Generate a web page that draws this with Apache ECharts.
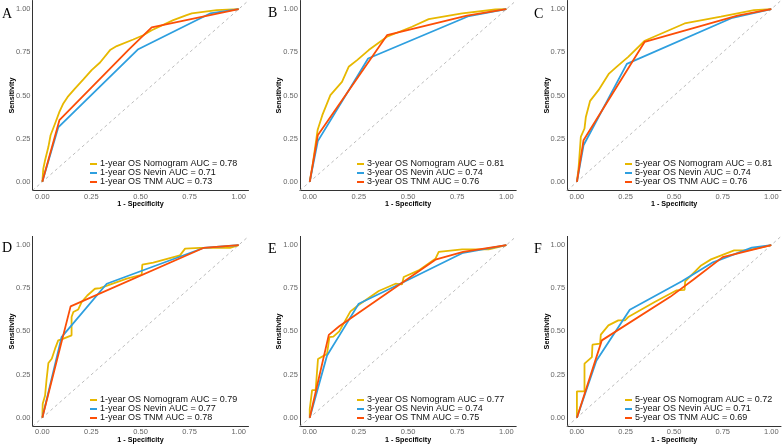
<!DOCTYPE html>
<html><head><meta charset="utf-8">
<script src="https://cdn.jsdelivr.net/npm/echarts@6/dist/echarts.min.js"></script>
<style>html,body{margin:0;padding:0;background:#fff}#c{width:784px;height:445px}</style>
</head><body><div id="c"></div>
<script>
// ---- data ----
const panelLetters = ['A', 'B', 'C', 'D', 'E', 'F'];
const tickValues = [0, 0.25, 0.5, 0.75, 1];
const diagonal = [[-0.05, -0.05], [1.05, 1.05]];

const namesA = ['1-year OS Nomogram AUC = 0.78', '1-year OS Nevin AUC = 0.71', '1-year OS TNM AUC = 0.73'];
const namesB = ['3-year OS Nomogram AUC = 0.81', '3-year OS Nevin AUC = 0.74', '3-year OS TNM AUC = 0.76'];
const namesC = ['5-year OS Nomogram AUC = 0.81', '5-year OS Nevin AUC = 0.74', '5-year OS TNM AUC = 0.76'];
const namesD = ['1-year OS Nomogram AUC = 0.79', '1-year OS Nevin AUC = 0.77', '1-year OS TNM AUC = 0.78'];
const namesE = ['3-year OS Nomogram AUC = 0.77', '3-year OS Nevin AUC = 0.74', '3-year OS TNM AUC = 0.75'];
const namesF = ['5-year OS Nomogram AUC = 0.72', '5-year OS Nevin AUC = 0.71', '5-year OS TNM AUC = 0.69'];

const nomoA = [[0,0],[0.005,0.077],[0.014,0.125],[0.031,0.203],[0.042,0.27],[0.065,0.338],[0.087,0.405],[0.107,0.454],[0.129,0.492],[0.166,0.54],[0.209,0.593],[0.251,0.647],[0.294,0.691],[0.345,0.763],[0.379,0.786],[0.463,0.824],[0.514,0.849],[0.557,0.878],[0.667,0.936],[0.735,0.965],[0.761,0.975],[0.888,0.994],[1,1]];
const nevinA = [[0,0],[0.081,0.315],[0.486,0.766],[0.854,0.975],[1,1]];
const tnmA = [[0,0],[0.087,0.357],[0.44,0.765],[0.557,0.894],[1,1]];

const nomoB = [[0,0],[0.015,0.1],[0.04,0.3],[0.064,0.386],[0.105,0.502],[0.164,0.579],[0.198,0.666],[0.241,0.705],[0.3,0.763],[0.393,0.84],[0.52,0.898],[0.605,0.942],[0.775,0.975],[0.944,0.998],[1,1]];
const nevinB = [[0,0],[0.041,0.236],[0.297,0.714],[0.81,0.96],[1,1]];
const tnmB = [[0,0],[0.041,0.27],[0.393,0.849],[0.8,0.962],[1,1]];

const nomoC = [[0,0],[0.009,0.087],[0.02,0.26],[0.039,0.309],[0.046,0.376],[0.068,0.469],[0.111,0.531],[0.165,0.627],[0.204,0.666],[0.264,0.724],[0.349,0.817],[0.554,0.917],[0.741,0.956],[0.911,0.994],[1,1]];
const nevinC = [[0,0],[0.034,0.212],[0.257,0.683],[0.8,0.95],[1,1]];
const tnmC = [[0,0],[0.034,0.241],[0.349,0.811],[0.826,0.962],[1,1]];

const nomoD = [[0,0],[0.002,0.081],[0.014,0.129],[0.022,0.226],[0.031,0.317],[0.048,0.342],[0.065,0.4],[0.081,0.448],[0.098,0.454],[0.149,0.477],[0.149,0.583],[0.158,0.612],[0.183,0.627],[0.2,0.67],[0.229,0.708],[0.268,0.747],[0.294,0.751],[0.43,0.805],[0.506,0.828],[0.509,0.886],[0.565,0.898],[0.701,0.94],[0.727,0.979],[0.803,0.983],[0.956,0.983],[1,1]];
const nevinD = [[0,0],[0.098,0.467],[0.328,0.776],[0.82,0.983],[1,1]];
const tnmD = [[0,0],[0.144,0.645],[0.82,0.983],[1,1]];

const nomoE = [[0,0],[0,0.05],[0.012,0.16],[0.03,0.16],[0.042,0.34],[0.088,0.37],[0.1,0.467],[0.12,0.47],[0.15,0.5],[0.207,0.616],[0.25,0.654],[0.351,0.734],[0.436,0.776],[0.469,0.772],[0.478,0.815],[0.554,0.853],[0.639,0.92],[0.656,0.96],[0.775,0.975],[0.91,0.975],[1,1]];
const nevinE = [[0,0],[0.088,0.361],[0.151,0.477],[0.249,0.66],[0.45,0.77],[0.78,0.955],[1,1]];
const tnmE = [[0,0],[0.097,0.48],[0.15,0.53],[0.639,0.915],[0.78,0.96],[1,1]];

const nomoF = [[0,0],[0,0.153],[0.039,0.153],[0.039,0.313],[0.077,0.351],[0.08,0.423],[0.119,0.429],[0.123,0.481],[0.162,0.535],[0.213,0.564],[0.247,0.564],[0.264,0.583],[0.4,0.67],[0.511,0.737],[0.554,0.741],[0.557,0.79],[0.639,0.882],[0.69,0.917],[0.809,0.969],[0.877,0.969],[1,1]];
const nevinF = [[0,0],[0.1,0.33],[0.272,0.625],[0.54,0.79],[0.7,0.9],[0.9,0.985],[1,1]];
const tnmF = [[0,0],[0.128,0.448],[0.48,0.7],[0.6,0.8],[0.75,0.93],[1,1]];

// ---- layout ----
const colors = ['#E7B800', '#2E9FDF', '#FC4E07'];
const panels = [
  {names: namesA, data: [nomoA, nevinA, tnmA]},
  {names: namesB, data: [nomoB, nevinB, tnmB]},
  {names: namesC, data: [nomoC, nevinC, tnmC]},
  {names: namesD, data: [nomoD, nevinD, tnmD]},
  {names: namesE, data: [nomoE, nevinE, tnmE]},
  {names: namesF, data: [nomoF, nevinF, tnmF]}
];
const gridLefts = [32.5, 299.9, 567.2];
const gridWidths = [216, 216.3, 215.3];
const gridTops = [0.5, 236.4];
const legendLefts = [90, 357, 625];
const legendTops = [159.5, 395.5];
const letterPos = [[2, 7], [268, 6], [534, 7], [2, 241], [268, 242], [534, 242]];

const isTick = v => tickValues.some(t => Math.abs(t - v) < 1e-6);
const fmt = v => isTick(v) ? Number(v).toFixed(2) : '';
const sansFont = 'Liberation Sans, Arial, sans-serif';

const option = {animation: false, grid: [], xAxis: [], yAxis: [], series: [], legend: [], title: []};
panels.forEach((p, i) => {
  const col = i % 3, row = Math.floor(i / 3);
  option.grid.push({left: gridLefts[col], top: gridTops[row], width: gridWidths[col], height: 190});
  const axisCommon = {
    type: 'value', min: -0.05, max: 1.05, interval: 0.05, gridIndex: i,
    splitLine: {show: false}, axisTick: {show: false},
    axisLine: {onZero: false, lineStyle: {color: '#333', width: 1}},
    axisLabel: {formatter: fmt, fontSize: 7.5, color: '#666', fontFamily: sansFont, margin: 2},
    nameLocation: 'middle', nameMoveOverlap: false,
    nameTextStyle: {fontSize: 7.2, fontWeight: 'bold', color: '#000', fontFamily: sansFont}
  };
  option.xAxis.push(Object.assign({}, axisCommon, {name: '1 - Specificity', nameGap: 10.5}));
  option.yAxis.push(Object.assign({}, axisCommon, {name: 'Sensitivity', nameGap: 17}));
  option.series.push({
    type: 'line', xAxisIndex: i, yAxisIndex: i, data: diagonal, symbol: 'none', silent: true,
    lineStyle: {color: '#BBBBBB', width: 1, type: [3, 3]}, z: 1
  });
  p.names.forEach((nm, k) => {
    option.series.push({
      name: nm, type: 'line', xAxisIndex: i, yAxisIndex: i, data: p.data[k],
      symbol: 'none', color: colors[k], lineStyle: {color: colors[k], width: 1.8}, z: 2 + k
    });
  });
  option.legend.push({
    data: p.names, orient: 'vertical', left: legendLefts[col], top: legendTops[row],
    icon: 'rect', itemWidth: 7, itemHeight: 2, itemGap: 0, padding: 0,
    textStyle: {fontSize: 9, color: '#111', fontFamily: sansFont, lineHeight: 8.7, padding: [0, 0, 0, -2]},
    selectedMode: false
  });
  option.title.push({
    text: panelLetters[i], left: letterPos[i][0], top: letterPos[i][1], padding: 0,
    textStyle: {fontFamily: 'Liberation Serif, Times New Roman, serif', fontWeight: 'normal', fontSize: 14, color: '#000'}
  });
});

const chart = echarts.init(document.getElementById('c'), null, {renderer: 'canvas'});
chart.setOption(option);
</script></body></html>
